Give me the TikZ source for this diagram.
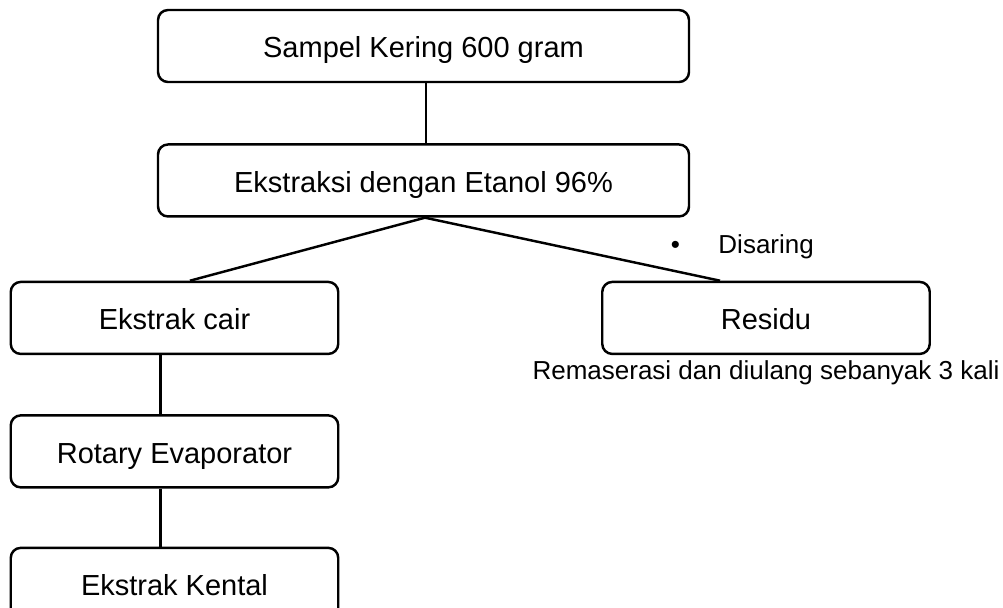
\documentclass[tikz,border=0pt]{standalone}
\usepackage{fontspec}
\setmainfont{Liberation Sans}
\usepackage{tikz}
\usetikzlibrary{positioning}
\definecolor{flink}{HTML}{000000}

\begin{document}
\begin{tikzpicture}[
  font=\fontsize{16.5}{19.8}\selectfont,
  stepbig/.style={draw=flink,line width=1.4pt,rounded corners=0.2cm,
                  minimum width=10.62cm,minimum height=1.44cm,inner sep=0pt,
                  text height=13.5pt,text depth=0pt,align=center},
  stepbox/.style={draw=flink,line width=1.4pt,rounded corners=0.2cm,
                  minimum width=6.55cm,minimum height=1.44cm,inner sep=0pt,
                  text height=13.5pt,text depth=0pt,align=center},
  note/.style={font=\fontsize{14.8}{17.8}\selectfont,inner sep=0pt},
  conn/.style={line width=1.4pt,draw=flink},
]
\useasboundingbox (0,0) rectangle (20.06,-12.14);
\node[stepbig] (sampel) at (8.47,-0.92) {Sampel Kering 600 gram};
\node[stepbig,below=1.2cm of sampel] (ekstraksi) {Ekstraksi dengan Etanol 96\%};
\node[stepbox,below=1.26cm of ekstraksi,xshift=-4.98cm] (cair) {Ekstrak cair};
\node[stepbox,below=1.26cm of ekstraksi,xshift=6.85cm] (residu) {Residu};
\node[stepbox,below=1.18cm of cair] (rotary) {Rotary Evaporator};
\node[stepbox,below=1.16cm of rotary] (kental) {Ekstrak Kental};
\node[note,anchor=west] (saring) at (13.41,-4.93)
  {\textbullet\hspace{0.77cm}Disaring};
\node[note,below=0.1cm of residu] (ulang)
  {Remaserasi dan diulang sebanyak 3 kali};
\draw[conn] ([xshift=0.05cm]sampel.south) -- ([xshift=0.05cm]ekstraksi.north);
\draw[conn] ([xshift=0.03cm]ekstraksi.south) -- ([xshift=0.31cm]cair.north);
\draw[conn] ([xshift=0.03cm]ekstraksi.south) -- ([xshift=-0.92cm]residu.north);
\draw[conn] ([xshift=-0.28cm]cair.south) -- ([xshift=-0.28cm]rotary.north);
\draw[conn] ([xshift=-0.28cm]rotary.south) -- ([xshift=-0.28cm]kental.north);
\end{tikzpicture}
\end{document}
